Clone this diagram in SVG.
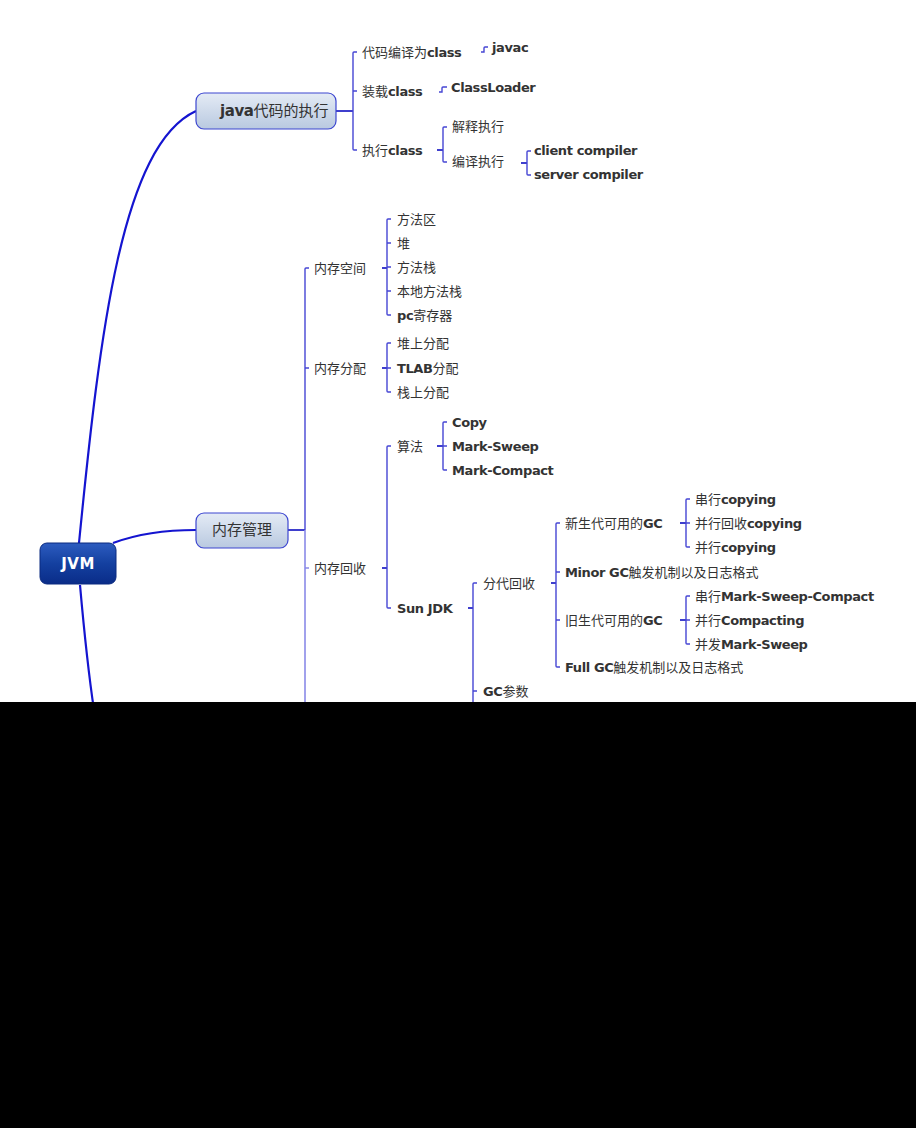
<svg xmlns="http://www.w3.org/2000/svg" width="916" height="1128" viewBox="0 0 916 1128">
<defs>
<linearGradient id="gRoot" x1="0" y1="0" x2="0" y2="1">
<stop offset="0" stop-color="#2d5cc0"/>
<stop offset="0.5" stop-color="#1440a0"/>
<stop offset="1" stop-color="#0a2c88"/>
</linearGradient>
<linearGradient id="gMain" x1="0" y1="0" x2="0" y2="1">
<stop offset="0" stop-color="#e4ebf5"/>
<stop offset="1" stop-color="#b9c9e0"/>
</linearGradient>
</defs>
<style>
text{font-family:"DejaVu Sans","Verdana","Noto Sans CJK SC",sans-serif;font-size:13px;fill:#333333}
.b{font-weight:bold;letter-spacing:-0.4px}
.main{font-size:15px}
.root{font-size:15px;font-weight:bold;fill:#ffffff;letter-spacing:0.5px}
.curve{fill:none;stroke:#1414d0;stroke-width:2.2}
.br{fill:none;stroke:#4646d4;stroke-width:1.4}
.lt{fill:none;stroke:#8a8ae8;stroke-width:1.6}
.in{fill:none;stroke:#2a2ac8;stroke-width:1.8}
.box{fill:url(#gMain);stroke:#3c46d0;stroke-width:1.2}
</style>
<rect x="0" y="0" width="916" height="1128" fill="#ffffff"/>
<g id="connectors">
<path class="curve" d="M79,543 C100,330 122,145 196,111"/>
<path class="curve" d="M113,543 C140,533 165,530 196,530"/>
<path class="curve" d="M80,585 C84,630 88,670 94,710"/>
<path class="in" d="M336,111 H353"/>
<path class="br" d="M357,52 H354 Q353,52 353,53 V149 Q353,150 354,150 H357 M353,91 H357"/>
<path class="br" d="M481,52 H484 V48 Q484,47 485,47 H488"/>
<path class="br" d="M439,92 H442 V88 Q442,87 443,87 H447"/>
<path class="in" d="M437,150 H443"/>
<path class="br" d="M447,127 H444 Q443,127 443,128 V161 Q443,162 444,162 H447"/>
<path class="in" d="M521,163 H527"/>
<path class="br" d="M531,151 H528 Q527,151 527,152 V174 Q527,175 528,175 H531"/>
<path class="in" d="M288,530 H305"/>
<path class="br" d="M309,268 H306 Q305,268 305,269 V530 M305,368 H309"/>
<path class="lt" d="M305,530 V702 M305,568 H309"/>
<path class="in" d="M382,268 H387"/>
<path class="br" d="M391,219 H388 Q387,219 387,220 V314 Q387,315 388,315 H391 M387,243 H391 M387,267 H391 M387,291 H391"/>
<path class="in" d="M382,368 H387"/>
<path class="br" d="M391,343 H388 Q387,343 387,344 V391 Q387,392 388,392 H391 M387,368 H391"/>
<path class="in" d="M382,568 H387"/>
<path class="br" d="M391,446 H388 Q387,446 387,447 V607 Q387,608 388,608 H391"/>
<path class="in" d="M437,446 H443"/>
<path class="br" d="M447,422 H444 Q443,422 443,423 V469 Q443,470 444,470 H447 M443,446 H447"/>
<path class="in" d="M468,608 H473"/>
<path class="br" d="M477,583 H474 Q473,583 473,584 V702 M473,691 H477"/>
<path class="in" d="M551,583 H556"/>
<path class="br" d="M560,523 H557 Q556,523 556,524 V666 Q556,667 557,667 H560 M556,572 H560 M556,620 H560"/>
<path class="in" d="M680,523 H686"/>
<path class="br" d="M690,499 H687 Q686,499 686,500 V546 Q686,547 687,547 H690 M686,523 H690"/>
<path class="in" d="M680,620 H686"/>
<path class="br" d="M690,596 H687 Q686,596 686,597 V643 Q686,644 687,644 H690 M686,620 H690"/>
</g>
<g id="n-jvm"><rect x="40" y="543" width="76" height="41" rx="7" fill="url(#gRoot)" stroke="#0a2a80" stroke-width="1"/><text class="root" x="78" y="569" text-anchor="middle">JVM</text></g>
<g id="n-java"><rect class="box" x="196" y="93" width="140" height="36" rx="8"/><text class="main" x="220" y="116"><tspan class="b">java</tspan>代码的执行</text></g>
<g id="n-mem"><rect class="box" x="196" y="513" width="92" height="35" rx="8"/><text class="main" x="242" y="535" text-anchor="middle">内存管理</text></g>
<g id="t-compile"><text x="362" y="57">代码编译为<tspan class="b">class</tspan></text></g>
<g id="t-javac"><text class="b" x="492" y="52">javac</text></g>
<g id="t-load"><text x="362" y="96">装载<tspan class="b">class</tspan></text></g>
<g id="t-classloader"><text class="b" x="451" y="92">ClassLoader</text></g>
<g id="t-exec"><text x="362" y="155">执行<tspan class="b">class</tspan></text></g>
<g id="t-interp"><text x="452" y="131">解释执行</text></g>
<g id="t-jit"><text x="452" y="166">编译执行</text></g>
<g id="t-client"><text class="b" x="534" y="155">client compiler</text></g>
<g id="t-server"><text class="b" x="534" y="179">server compiler</text></g>
<g id="t-space"><text x="314" y="273">内存空间</text></g>
<g id="t-method"><text x="397" y="224">方法区</text></g>
<g id="t-heap"><text x="397" y="248">堆</text></g>
<g id="t-mstack"><text x="397" y="272">方法栈</text></g>
<g id="t-nstack"><text x="397" y="296">本地方法栈</text></g>
<g id="t-pc"><text x="397" y="320"><tspan class="b">pc</tspan>寄存器</text></g>
<g id="t-alloc"><text x="314" y="373">内存分配</text></g>
<g id="t-heapalloc"><text x="397" y="348">堆上分配</text></g>
<g id="t-tlab"><text x="397" y="373"><tspan class="b">TLAB</tspan>分配</text></g>
<g id="t-stackalloc"><text x="397" y="397">栈上分配</text></g>
<g id="t-gc"><text x="314" y="573">内存回收</text></g>
<g id="t-algo"><text x="397" y="451">算法</text></g>
<g id="t-copy"><text class="b" x="452" y="427">Copy</text></g>
<g id="t-ms"><text class="b" x="452" y="451">Mark-Sweep</text></g>
<g id="t-mc"><text class="b" x="452" y="475">Mark-Compact</text></g>
<g id="t-sun"><text class="b" x="397" y="613">Sun JDK</text></g>
<g id="t-gen"><text x="483" y="588">分代回收</text></g>
<g id="t-gcparam"><text x="483" y="696"><tspan class="b">GC</tspan>参数</text></g>
<g id="t-young"><text x="565" y="528">新生代可用的<tspan class="b">GC</tspan></text></g>
<g id="t-minor"><text x="565" y="577"><tspan class="b">Minor GC</tspan>触发机制以及日志格式</text></g>
<g id="t-old"><text x="565" y="625">旧生代可用的<tspan class="b">GC</tspan></text></g>
<g id="t-full"><text x="565" y="672"><tspan class="b">Full GC</tspan>触发机制以及日志格式</text></g>
<g id="t-y1"><text x="695" y="504">串行<tspan class="b">copying</tspan></text></g>
<g id="t-y2"><text x="695" y="528">并行回收<tspan class="b">copying</tspan></text></g>
<g id="t-y3"><text x="695" y="552">并行<tspan class="b">copying</tspan></text></g>
<g id="t-o1"><text x="695" y="601">串行<tspan class="b">Mark-Sweep-Compact</tspan></text></g>
<g id="t-o2"><text x="695" y="625">并行<tspan class="b">Compacting</tspan></text></g>
<g id="t-o3"><text x="695" y="649">并发<tspan class="b">Mark-Sweep</tspan></text></g>
<rect x="0" y="702" width="916" height="426" fill="#000000"/>
</svg>
